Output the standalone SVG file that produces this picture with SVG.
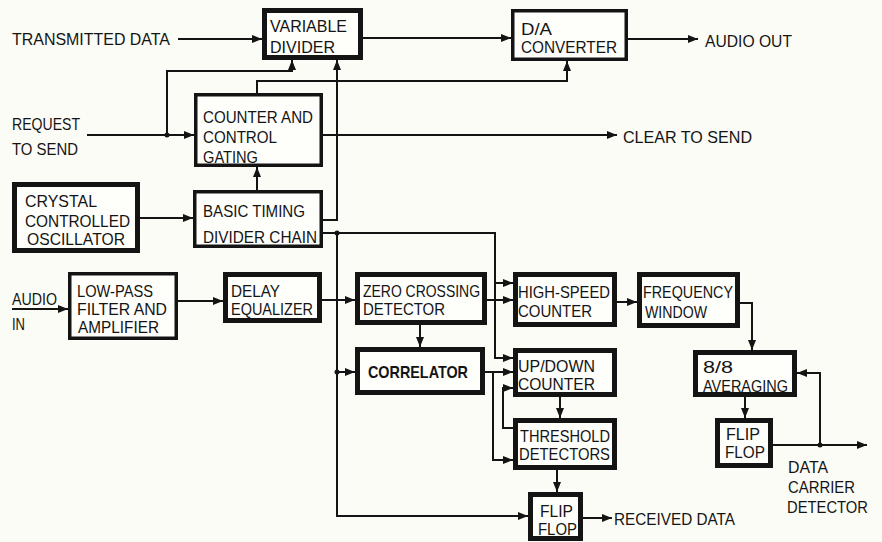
<svg xmlns="http://www.w3.org/2000/svg" width="882" height="542" viewBox="0 0 882 542">
<style>
text{font-family:"Liberation Sans",Arial,sans-serif;font-size:17px;fill:#141414}
.box{fill:#fefefb;stroke:#141414;stroke-width:3.5}
.heavy{fill:#fefefb;stroke:#141414;stroke-width:5}
.w{fill:none;stroke:#141414;stroke-width:2;stroke-linejoin:miter}
.a{marker-end:url(#ah)}
.dot{fill:#141414}
</style>
<defs>
<marker id="ah" viewBox="0 0 10 8" refX="10" refY="4" markerWidth="10" markerHeight="8" markerUnits="userSpaceOnUse" orient="auto">
<path d="M0,0 L10,4 L0,8 Z" fill="#141414"/>
</marker>
</defs>
<rect width="882" height="542" fill="#fcfcf6"/>

<g id="connectors">
<path class="w a" d="M178,39 H262"/>
<path class="w a" d="M363,38 H511"/>
<path class="w a" d="M628,39 H698"/>
<path class="w a" d="M87,135 H194"/>
<path class="w a" d="M167,135 V71 H292 V60"/>
<path class="w a" d="M257,93 V81 H567 V61"/>
<path class="w a" d="M323,135 H617"/>
<path class="w a" d="M140,218 H193"/>
<path class="w a" d="M257,190 V167"/>
<path class="w a" d="M323,220 H337 V60"/>
<path class="w a" d="M323,233 H495 V358 H513"/>
<path class="w a" d="M495,283 H513"/>
<path class="w a" d="M337,233 V516 H528"/>
<path class="w a" d="M337,372 H355"/>
<path class="w a" d="M12,309 H68"/>
<path class="w a" d="M178,301 H223"/>
<path class="w a" d="M322,300 H355"/>
<path class="w a" d="M420,325 V347"/>
<path class="w a" d="M487,300 H513"/>
<path class="w a" d="M485,372 H513"/>
<path class="w a" d="M493,372 V460 H513"/>
<path class="w a" d="M513,428 H503 V388 H513"/>
<path class="w a" d="M560,397 V418"/>
<path class="w a" d="M557,470 V492"/>
<path class="w a" d="M583,518 H612"/>
<path class="w a" d="M617,302 H637"/>
<path class="w a" d="M740,303 H752 V350"/>
<path class="w a" d="M745,397 V418"/>
<path class="w a" d="M773,445 H867"/>
<path class="w a" d="M820,445 V373 H797"/>
<circle class="dot" cx="167" cy="135" r="2.5"/>
<circle class="dot" cx="337" cy="233" r="2.5"/>
<circle class="dot" cx="337" cy="372" r="2.5"/>
<circle class="dot" cx="820" cy="445" r="2.5"/>
</g>

<g id="labels">
<text x="12" y="45" textLength="158" lengthAdjust="spacingAndGlyphs">TRANSMITTED DATA</text>
<text x="12" y="130" textLength="68" lengthAdjust="spacingAndGlyphs">REQUEST</text>
<text x="12" y="155" textLength="66" lengthAdjust="spacingAndGlyphs">TO SEND</text>
<text x="705" y="47" textLength="87" lengthAdjust="spacingAndGlyphs">AUDIO OUT</text>
<text x="623" y="143" textLength="129" lengthAdjust="spacingAndGlyphs">CLEAR TO SEND</text>
<text x="12" y="305" textLength="45" lengthAdjust="spacingAndGlyphs">AUDIO</text>
<text x="12" y="330" textLength="13" lengthAdjust="spacingAndGlyphs">IN</text>
<text x="614" y="525" textLength="121" lengthAdjust="spacingAndGlyphs">RECEIVED DATA</text>
<text x="788" y="473" textLength="40" lengthAdjust="spacingAndGlyphs">DATA</text>
<text x="788" y="493" textLength="67" lengthAdjust="spacingAndGlyphs">CARRIER</text>
<text x="787" y="513" textLength="81" lengthAdjust="spacingAndGlyphs">DETECTOR</text>
</g>

<g id="variable-divider">
<rect class="heavy" x="264.5" y="10.5" width="96" height="47"/>
<text x="270" y="32" textLength="77" lengthAdjust="spacingAndGlyphs">VARIABLE</text>
<text x="270" y="53" textLength="65" lengthAdjust="spacingAndGlyphs">DIVIDER</text>
</g>
<g id="da-converter">
<rect class="box" x="512.75" y="10.75" width="113.5" height="48.5"/>
<text x="521" y="35" textLength="31" lengthAdjust="spacingAndGlyphs">D/A</text>
<text x="521" y="53" textLength="96" lengthAdjust="spacingAndGlyphs">CONVERTER</text>
</g>
<g id="counter-control">
<rect class="box" x="195.75" y="94.75" width="125.5" height="70.5"/>
<text x="203" y="123" textLength="110" lengthAdjust="spacingAndGlyphs">COUNTER AND</text>
<text x="203" y="143" textLength="74" lengthAdjust="spacingAndGlyphs">CONTROL</text>
<text x="203" y="163" textLength="55" lengthAdjust="spacingAndGlyphs">GATING</text>
</g>
<g id="crystal-oscillator">
<rect class="heavy" x="14.5" y="184.5" width="123" height="66"/>
<text x="25" y="207" textLength="72" lengthAdjust="spacingAndGlyphs">CRYSTAL</text>
<text x="25" y="227" textLength="105" lengthAdjust="spacingAndGlyphs">CONTROLLED</text>
<text x="27" y="245" textLength="98" lengthAdjust="spacingAndGlyphs">OSCILLATOR</text>
</g>
<g id="basic-timing">
<rect class="box" x="194.75" y="191.75" width="126.5" height="54.5"/>
<text x="203" y="217" textLength="102" lengthAdjust="spacingAndGlyphs">BASIC TIMING</text>
<text x="203" y="243" textLength="114" lengthAdjust="spacingAndGlyphs">DIVIDER CHAIN</text>
</g>
<g id="low-pass">
<rect class="box" x="69.75" y="273.75" width="106.5" height="64.5"/>
<text x="77" y="297" textLength="76" lengthAdjust="spacingAndGlyphs">LOW-PASS</text>
<text x="77" y="315" textLength="90" lengthAdjust="spacingAndGlyphs">FILTER AND</text>
<text x="78" y="333" textLength="81" lengthAdjust="spacingAndGlyphs">AMPLIFIER</text>
</g>
<g id="delay-equalizer">
<rect class="heavy" x="225.5" y="274.5" width="94" height="46"/>
<text x="231" y="297" textLength="49" lengthAdjust="spacingAndGlyphs">DELAY</text>
<text x="231" y="315" textLength="82" lengthAdjust="spacingAndGlyphs">EQUALIZER</text>
</g>
<g id="zero-crossing">
<rect class="heavy" x="357.5" y="274.5" width="127" height="48"/>
<text x="363" y="297" textLength="117" lengthAdjust="spacingAndGlyphs">ZERO CROSSING</text>
<text x="363" y="315" textLength="82" lengthAdjust="spacingAndGlyphs">DETECTOR</text>
</g>
<g id="correlator">
<rect class="heavy" x="357.5" y="349.5" width="125" height="43"/>
<text x="368" y="378" textLength="100" lengthAdjust="spacingAndGlyphs" font-weight="bold">CORRELATOR</text>
</g>
<g id="high-speed-counter">
<rect class="heavy" x="515.5" y="274.5" width="99" height="50"/>
<text x="518" y="298" textLength="92" lengthAdjust="spacingAndGlyphs">HIGH-SPEED</text>
<text x="518" y="317" textLength="74" lengthAdjust="spacingAndGlyphs">COUNTER</text>
</g>
<g id="frequency-window">
<rect class="heavy" x="639.5" y="274.5" width="98" height="51"/>
<text x="643" y="298" textLength="90" lengthAdjust="spacingAndGlyphs">FREQUENCY</text>
<text x="645" y="318" textLength="62" lengthAdjust="spacingAndGlyphs">WINDOW</text>
</g>
<g id="up-down-counter">
<rect class="heavy" x="515.5" y="350.5" width="99" height="44"/>
<text x="518" y="372" textLength="77" lengthAdjust="spacingAndGlyphs">UP/DOWN</text>
<text x="518" y="390" textLength="77" lengthAdjust="spacingAndGlyphs">COUNTER</text>
</g>
<g id="threshold-detectors">
<rect class="heavy" x="515.5" y="420.5" width="99" height="47"/>
<text x="520" y="442" textLength="90" lengthAdjust="spacingAndGlyphs">THRESHOLD</text>
<text x="519" y="460" textLength="91" lengthAdjust="spacingAndGlyphs">DETECTORS</text>
</g>
<g id="flip-flop-data">
<rect class="heavy" x="530.5" y="494.5" width="50" height="44"/>
<text x="540" y="517" textLength="33" lengthAdjust="spacingAndGlyphs">FLIP</text>
<text x="538" y="535" textLength="39" lengthAdjust="spacingAndGlyphs">FLOP</text>
</g>
<g id="averaging">
<rect class="heavy" x="695.5" y="352.5" width="99" height="42"/>
<text x="703" y="373" textLength="30" lengthAdjust="spacingAndGlyphs">8/8</text>
<text x="703" y="392" textLength="85" lengthAdjust="spacingAndGlyphs">AVERAGING</text>
</g>
<g id="flip-flop-carrier">
<rect class="heavy" x="717.5" y="420.5" width="53" height="45"/>
<text x="726" y="440" textLength="34" lengthAdjust="spacingAndGlyphs">FLIP</text>
<text x="725" y="458" textLength="40" lengthAdjust="spacingAndGlyphs">FLOP</text>
</g>
</svg>
